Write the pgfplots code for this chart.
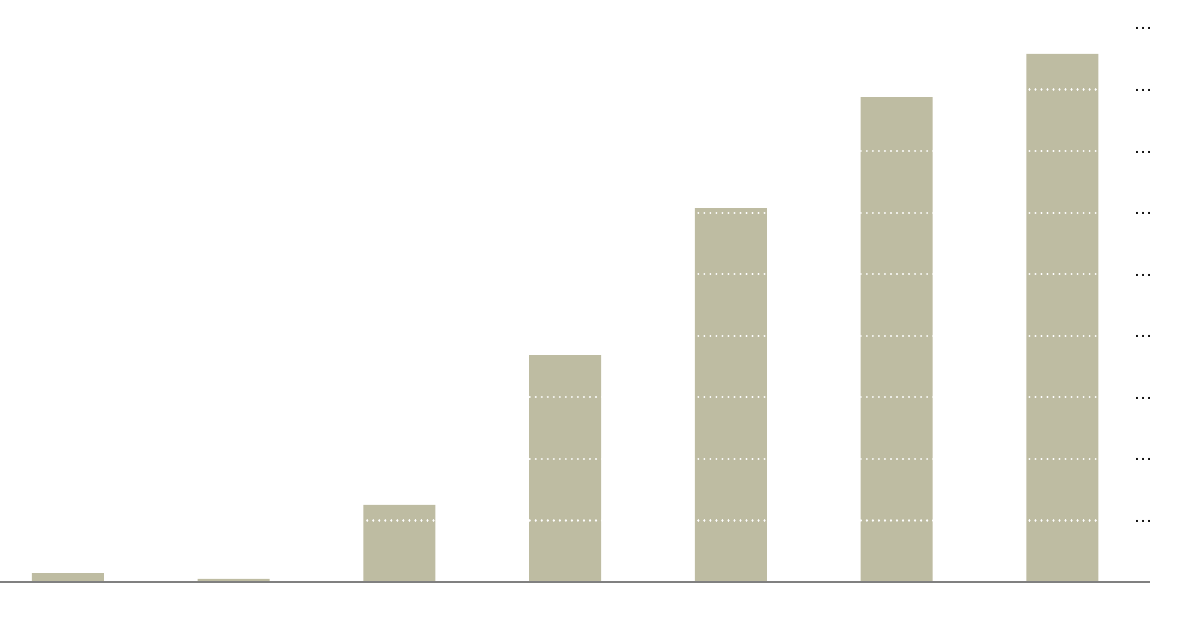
\documentclass[border=0pt]{standalone}
\usepackage{fontspec}
\setmainfont{Liberation Sans}
\usepackage{pgfplots}
\pgfplotsset{compat=1.18}

\definecolor{barkhaki}{RGB}{190,188,162}

\begin{document}
\begin{tikzpicture}
\useasboundingbox (0,-27pt) rectangle (600pt,291pt);
\begin{axis}[
    at={(0,0)}, anchor=south west,
    scale only axis,
    width=575pt, height=291pt,
    ybar, bar width=36pt,
    xmin=-0.41, xmax=6.528,
    ymin=0, ymax=9.454,
    axis on top,
    axis x line*=bottom, axis y line*=right,
    x axis line style={draw=gray, line width=1pt},
    y axis line style={draw=none},
    xtick=\empty,
    ytick={1,2,3,4,5,6,7,8,9},
    yticklabel={\fontsize{9.5}{10}\selectfont …},
    yticklabel style={anchor=base east, inner sep=0pt, xshift=1.5pt, yshift=-1pt},
    major tick length=0pt,
    ymajorgrids,
    major grid style={white, line width=1.1pt, dash pattern=on 0.01pt off 3pt, line cap=round},
]
\addplot[fill=barkhaki, draw=none] coordinates {
    (0,0.146) (1,0.049) (2,1.251) (3,3.687) (4,6.075) (5,7.878) (6,8.577)
};
\end{axis}
\end{tikzpicture}
\end{document}
